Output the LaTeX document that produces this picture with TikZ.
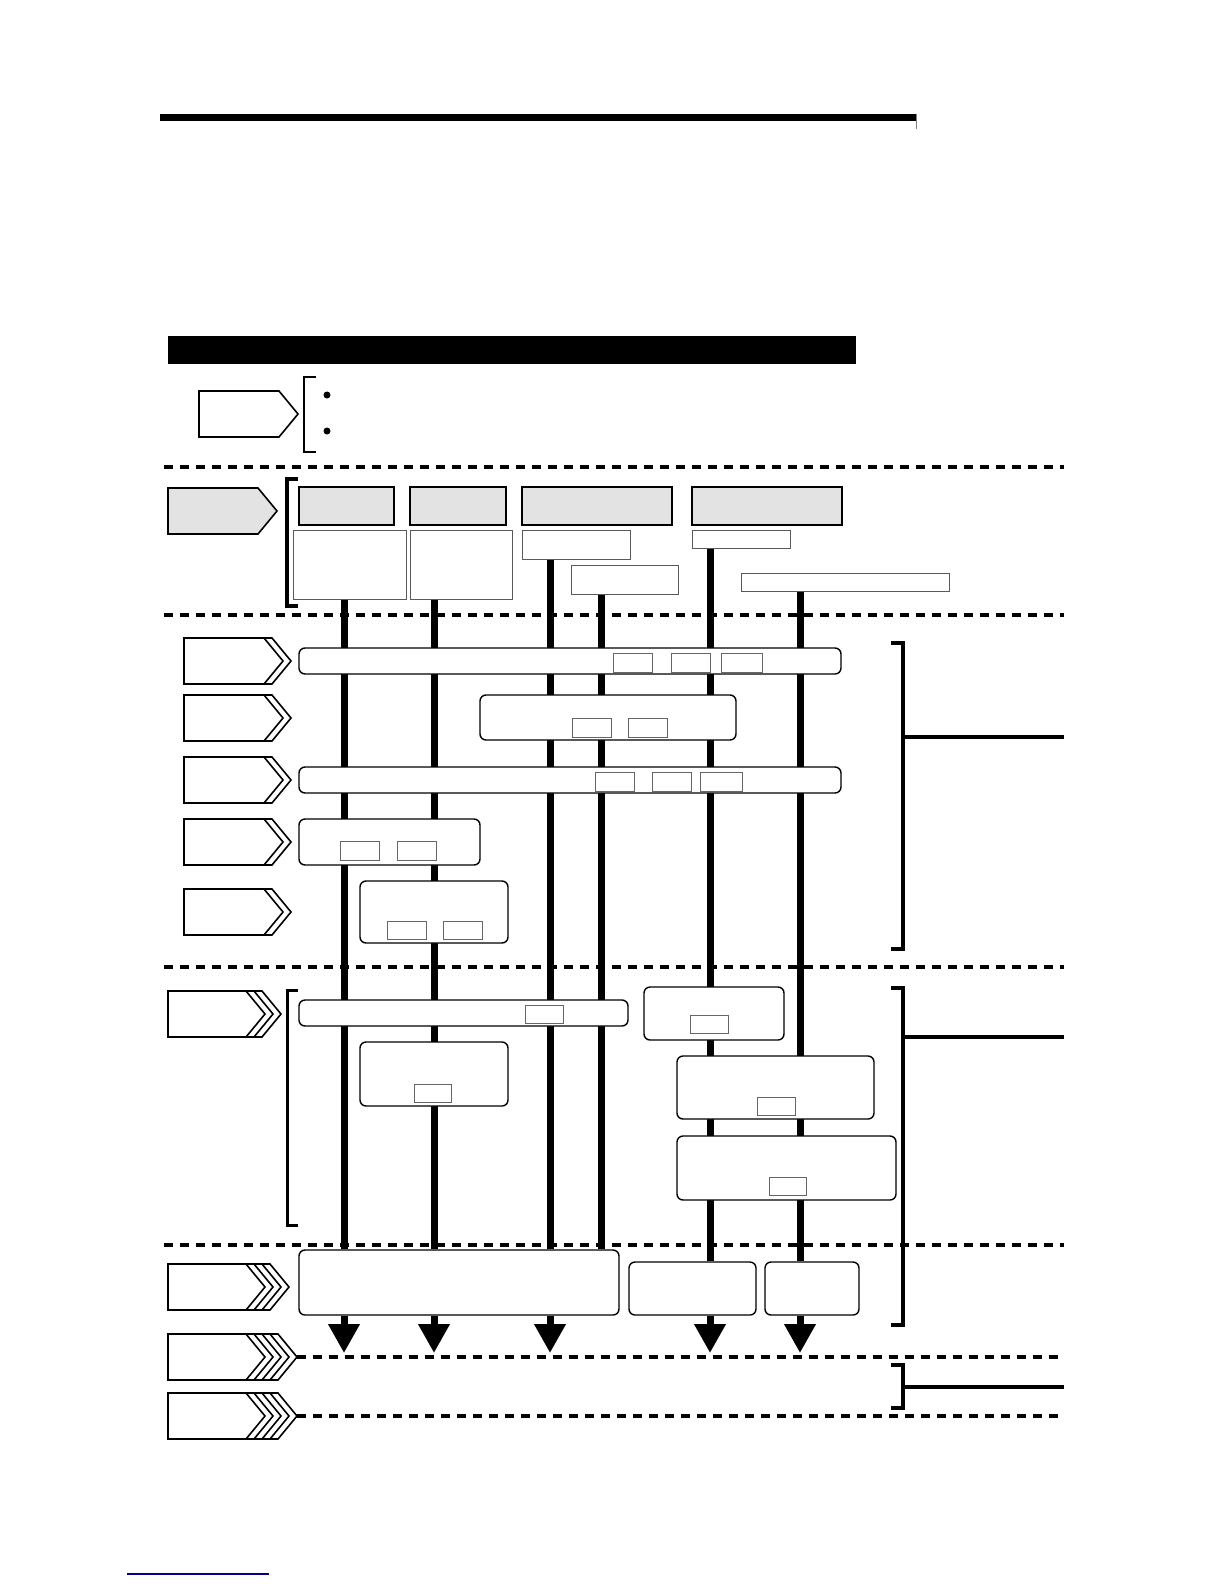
\documentclass[tikz,border=0pt]{standalone}
\usetikzlibrary{arrows.meta,fit,backgrounds}

% left, top, body width, number of chevrons, fill
\newcommand{\chevron}[5]{%
  \filldraw[chev,fill=#5] (#1,#2) -- ({#1+#3+(#4-1)*8},#2) -- ++(19,23) -- ++(-19,23) -- (#1,{#2+46}) -- cycle;
  \ifnum#4>1
    \foreach \k in {2,...,#4} {\draw[chev] ({#1+#3+(\k-2)*8},#2) -- ++(19,23) -- ++(-19,23);}
  \fi
}

\begin{document}
\begin{tikzpicture}[x=1pt,y=-1pt,
    chev/.style={line width=1.6pt,line join=miter},
    gbox/.style={draw,line width=2pt,fill=black!11,inner sep=0pt},
    wbox/.style={draw=black!65,line width=0.9pt,fill=white,inner sep=0pt},
    rbox/.style={draw,line width=1.4pt,rounded corners=6pt,fill=white,inner sep=0pt},
    sbox/.style={draw=black!60,line width=1pt,fill=white,inner sep=0pt},
    sep/.style={line width=3.5pt,dash pattern=on 9pt off 7pt},
    brack/.style={line width=3.5pt},
    flow/.style={line width=7pt},
    flowarrow/.style={line width=7pt,-{Triangle[width=30pt,length=29pt]}}]
\useasboundingbox (0,0) rectangle (1224,1584);

% title rule and header bar
\fill (160,114) rectangle (916,121);
\draw[black!50,line width=0.6pt] (916,114) -- (916,129);
\fill (168,336) rectangle (856,364);

% section 1
\chevron{199}{391}{80}{1}{white}
\draw[line width=1.5pt] (316,377) -- (304,377) -- (304,452) -- (316,452);
\fill (327,395) circle (3.5);
\fill (327,431) circle (3.5);

\draw[sep] (164,467) -- (1064,467);

% section 2
\chevron{168}{488}{90}{1}{black!11}
\draw[line width=4pt] (298,479) -- (287,479) -- (287,606) -- (298,606);
\node[gbox,fit={(299,487) (394,525)}] (g1) {};
\node[gbox,fit={(410,487) (506,525)}] (g2) {};
\node[gbox,fit={(522,487) (672,525)}] (g3) {};
\node[gbox,fit={(692,487) (842,525)}] (g4) {};
\node[wbox,fit={(293,530) (406,599)}] (w1) {};
\node[wbox,fit={(410,530) (512,599)}] (w2) {};
\node[wbox,fit={(522,530) (630,559)}] (w3) {};
\node[wbox,fit={(571,565) (678,594)}] (w4) {};
\node[wbox,fit={(692,530) (790,548)}] (w5) {};
\node[wbox,fit={(741,573) (949,591)}] (w6) {};

\draw[sep] (164,615) -- (1064,615);

% section 3
\foreach \t in {638,695,757,819,889} {\chevron{184}{\t}{80}{2}{white}}
\node[rbox,fit={(299,648) (841,674)}] (r1) {};
\node[sbox,fit={(613,653) (652,672)}] (s11) {};
\node[sbox,fit={(671,653) (710,672)}] (s12) {};
\node[sbox,fit={(721,653) (762,672)}] (s13) {};
\node[rbox,fit={(480,695) (736,740)}] (r2) {};
\node[sbox,fit={(572,718) (611,737)}] (s21) {};
\node[sbox,fit={(628,718) (667,737)}] (s22) {};
\node[rbox,fit={(299,767) (841,793)}] (r3) {};
\node[sbox,fit={(595,772) (634,791)}] (s31) {};
\node[sbox,fit={(652,772) (691,791)}] (s32) {};
\node[sbox,fit={(700,772) (742,791)}] (s33) {};
\node[rbox,fit={(299,819) (480,865)}] (r4) {};
\node[sbox,fit={(340,841) (379,860)}] (s41) {};
\node[sbox,fit={(397,841) (436,860)}] (s42) {};
\node[rbox,fit={(360,881) (508,943)}] (r5) {};
\node[sbox,fit={(387,921) (426,939)}] (s51) {};
\node[sbox,fit={(443,921) (482,939)}] (s52) {};
\draw[brack] (891,643) -- (903,643) -- (903,949) -- (891,949);
\draw[brack] (903,737) -- (1064,737);

\draw[sep] (164,967) -- (1064,967);

% section 4
\chevron{168}{991}{78}{3}{white}
\draw[line width=3pt] (298,990) -- (287,990) -- (287,1225) -- (298,1225);
\node[rbox,fit={(299,1000) (628,1026)}] (r6) {};
\node[sbox,fit={(525,1005) (563,1023)}] (s61) {};
\node[rbox,fit={(644,987) (784,1040)}] (r7) {};
\node[sbox,fit={(690,1015) (728,1033)}] (s71) {};
\node[rbox,fit={(360,1042) (508,1106)}] (r8) {};
\node[sbox,fit={(414,1084) (451,1102)}] (s81) {};
\node[rbox,fit={(677,1056) (874,1119)}] (r9) {};
\node[sbox,fit={(757,1097) (795,1115)}] (s91) {};
\node[rbox,fit={(677,1136) (896,1200)}] (r10) {};
\node[sbox,fit={(769,1177) (806,1195)}] (s101) {};
\draw[brack] (891,988) -- (903,988) -- (903,1325) -- (891,1325);
\draw[brack] (903,1037) -- (1064,1037);

\draw[sep] (164,1245) -- (1064,1245);

% section 5
\chevron{168}{1264}{78}{4}{white}
\node[rbox,fit={(299,1250) (619,1315)}] (b1) {};
\node[rbox,fit={(629,1262) (756,1315)}] (b2) {};
\node[rbox,fit={(765,1262) (859,1315)}] (b3) {};

% last two rows
\chevron{168}{1334}{78}{5}{white}
\chevron{168}{1393}{78}{5}{white}
\coordinate (t6) at (297,1357);
\coordinate (t7) at (297,1416);
\coordinate (rim) at (1064,0);
\draw[sep] (t6) -- (t6 -| rim);
\draw[sep] (t7) -- (t7 -| rim);
\draw[brack] (891,1365) -- (903,1365) -- (903,1408) -- (891,1408);
\draw[brack] (903,1387) -- (1064,1387);

% flow lines
\coordinate (x1) at (344,0);
\coordinate (x2) at (434,0);
\coordinate (x3) at (550,0);
\coordinate (x4) at (601,0);
\coordinate (x5) at (710,0);
\coordinate (x6) at (800,0);
\coordinate (tip) at (0,1353);
\begin{scope}[on background layer]
\draw[flow] (w1.south -| x1) -- (b1.north -| x1);
\draw[flow] (w2.south -| x2) -- (b1.north -| x2);
\draw[flow] (w3.south -| x3) -- (b1.north -| x3);
\draw[flow] (w4.south -| x4) -- (b1.north -| x4);
\draw[flow] (w5.south -| x5) -- (b2.north -| x5);
\draw[flow] (w6.south -| x6) -- (b3.north -| x6);
\end{scope}
\draw[flowarrow] (b1.south -| x1) -- (tip -| x1);
\draw[flowarrow] (b1.south -| x2) -- (tip -| x2);
\draw[flowarrow] (b1.south -| x3) -- (tip -| x3);
\draw[flowarrow] (b2.south -| x5) -- (tip -| x5);
\draw[flowarrow] (b3.south -| x6) -- (tip -| x6);

% footer rule
\draw[blue!55!black,line width=1.2pt] (127,1574) -- (269,1574);
\end{tikzpicture}
\end{document}
